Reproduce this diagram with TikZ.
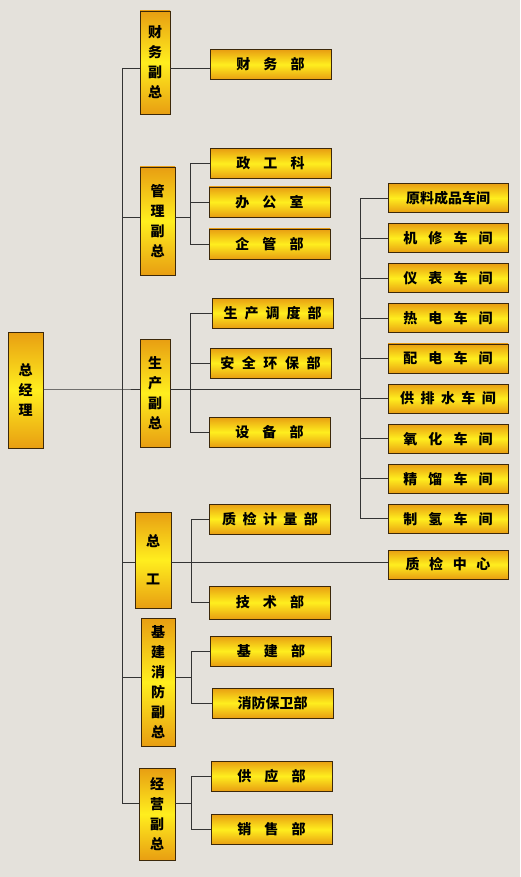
\documentclass[tikz,border=0pt]{standalone}
\usepackage{fontspec}
\newfontfamily\cjk{Noto Sans CJK SC}
\definecolor{bgcol}{RGB}{228,225,219}
\definecolor{gold1}{RGB}{232,158,18}
\definecolor{gold2}{RGB}{255,238,30}
\definecolor{edge}{RGB}{60,40,10}

\begin{document}
\begin{tikzpicture}[x=1pt,y=-1pt,
  box/.style={draw=edge, line width=0.8pt, top color=gold1, bottom color=gold1, middle color=gold2,
    inner sep=0pt, align=center, font=\cjk\bfseries\fontsize{14}{20}\selectfont},
  hbox/.style={box, minimum width=121pt, minimum height=30pt},
  wbox/.style={box, minimum width=120pt, minimum height=29pt},
  link/.style={line width=0.8pt, black!80}]
  \fill[bgcol] (0,0) rectangle (520,877);

  \node[box, minimum width=35pt, minimum height=116pt] (zjl) at (25.5,390) {总\\经\\理};

  \node[box, minimum width=30pt, minimum height=103pt] (cwfz) at (155,62.5) {财\\务\\副\\总};
  \node[box, minimum width=35pt, minimum height=108pt] (glfz) at (157.5,221) {管\\理\\副\\总};
  \node[box, minimum width=30pt, minimum height=108pt] (scfz) at (155,393) {生\\产\\副\\总};
  \node[box, minimum width=36pt, minimum height=96pt] (zg) at (153,560) {总\\[18pt]工};
  \node[box, minimum width=34pt, minimum height=128pt] (jjxf) at (158,682) {基\\建\\消\\防\\副\\总};
  \node[box, minimum width=36pt, minimum height=92pt] (jyfz) at (157,814) {经\\营\\副\\总};

  \node[hbox] (cwb) at (270.5,64.5) {财\hspace{.93em}务\hspace{.93em}部};
  \node[hbox] (zgk) at (270.5,163.5) {政\hspace{.93em}工\hspace{.93em}科};
  \node[hbox] (bgs) at (269.5,202) {办\hspace{.93em}公\hspace{.93em}室};
  \node[hbox] (qgb) at (269.5,244) {企\hspace{.93em}管\hspace{.93em}部};
  \node[hbox] (scdd) at (272.5,313) {生\hspace{.5em}产\hspace{.5em}调\hspace{.5em}度\hspace{.5em}部};
  \node[hbox] (aqhb) at (270.5,363) {安\hspace{.54em}全\hspace{.54em}环\hspace{.54em}保\hspace{.54em}部};
  \node[hbox] (sbb) at (269.5,432) {设\hspace{.93em}备\hspace{.93em}部};
  \node[hbox] (zjjl) at (270,519) {质\hspace{.46em}检\hspace{.46em}计\hspace{.46em}量\hspace{.46em}部};
  \node[hbox, minimum height=33pt] (jsb) at (270,602.5) {技\hspace{.93em}术\hspace{.93em}部};
  \node[hbox] (jjb) at (271,651) {基\hspace{.93em}建\hspace{.93em}部};
  \node[hbox] (xfbw) at (272.5,703) {消防保卫部};
  \node[hbox] (gyb) at (271.5,776) {供\hspace{.93em}应\hspace{.93em}部};
  \node[hbox] (xsb) at (271.5,829.5) {销\hspace{.93em}售\hspace{.93em}部};

  % workshops under the production branch
  \foreach \t [count=\i from 0] in {原料成品车间,
      机\hspace{.79em}修\hspace{.79em}车\hspace{.79em}间, 仪\hspace{.79em}表\hspace{.79em}车\hspace{.79em}间,
      热\hspace{.79em}电\hspace{.79em}车\hspace{.79em}间, 配\hspace{.79em}电\hspace{.79em}车\hspace{.79em}间,
      供\hspace{.46em}排\hspace{.46em}水\hspace{.46em}车\hspace{.46em}间,
      氧\hspace{.79em}化\hspace{.79em}车\hspace{.79em}间, 精\hspace{.79em}馏\hspace{.79em}车\hspace{.79em}间,
      制\hspace{.79em}氢\hspace{.79em}车\hspace{.79em}间}
    \node[wbox] (ws\i) at (448,{198+40.1*\i}) {\t};
  \node[wbox] (zjzx) at (448,564.5) {质\hspace{.68em}检\hspace{.68em}中\hspace{.68em}心};

  \coordinate (j1) at (122,68);
  \coordinate (j2) at (122,217);
  \coordinate (j3) at (122,389);
  \coordinate (j4) at (122,562);
  \coordinate (j5) at (122,677);
  \coordinate (j6) at (122,803);
  \draw[link] (j1) -- (j6);

  \draw[link] (j1) -- (j1 -| cwfz.west) (j1 -| cwfz.east) -- (j1 -| cwb.west);

  \draw[link] (j2) -- (j2 -| glfz.west) (j2 -| glfz.east) -- (190,217) coordinate (g2);
  \draw[link] (g2 |- zgk) -- (g2 |- qgb);
  \foreach \n in {zgk,bgs,qgb} \draw[link] (g2 |- \n) -- (\n.west);

  \draw[link] (zjl.east |- j3) -- (j3) -- (j3 -| scfz.west) (j3 -| scfz.east) -- (360,389) coordinate (w);
  \coordinate (g3) at (190,389);
  \draw[link] (g3 |- scdd) -- (g3 |- sbb);
  \foreach \n in {scdd,aqhb,sbb} \draw[link] (g3 |- \n) -- (\n.west);
  \draw[link] (w |- ws0) -- (w |- ws8);
  \foreach \i in {0,...,8} \draw[link] (w |- ws\i) -- (ws\i.west);

  \draw[link] (j4) -- (j4 -| zg.west) (j4 -| zg.east) -- (j4 -| zjzx.west);
  \coordinate (g4) at (191,562);
  \draw[link] (g4 |- zjjl) -- (g4 |- jsb);
  \foreach \n in {zjjl,jsb} \draw[link] (g4 |- \n) -- (\n.west);

  \draw[link] (j5) -- (j5 -| jjxf.west) (j5 -| jjxf.east) -- (191,677) coordinate (g5);
  \draw[link] (g5 |- jjb) -- (g5 |- xfbw);
  \foreach \n in {jjb,xfbw} \draw[link] (g5 |- \n) -- (\n.west);

  \draw[link] (j6) -- (j6 -| jyfz.west) (j6 -| jyfz.east) -- (191,803) coordinate (g6);
  \draw[link] (g6 |- gyb) -- (g6 |- xsb);
  \foreach \n in {gyb,xsb} \draw[link] (g6 |- \n) -- (\n.west);
\end{tikzpicture}
\end{document}
